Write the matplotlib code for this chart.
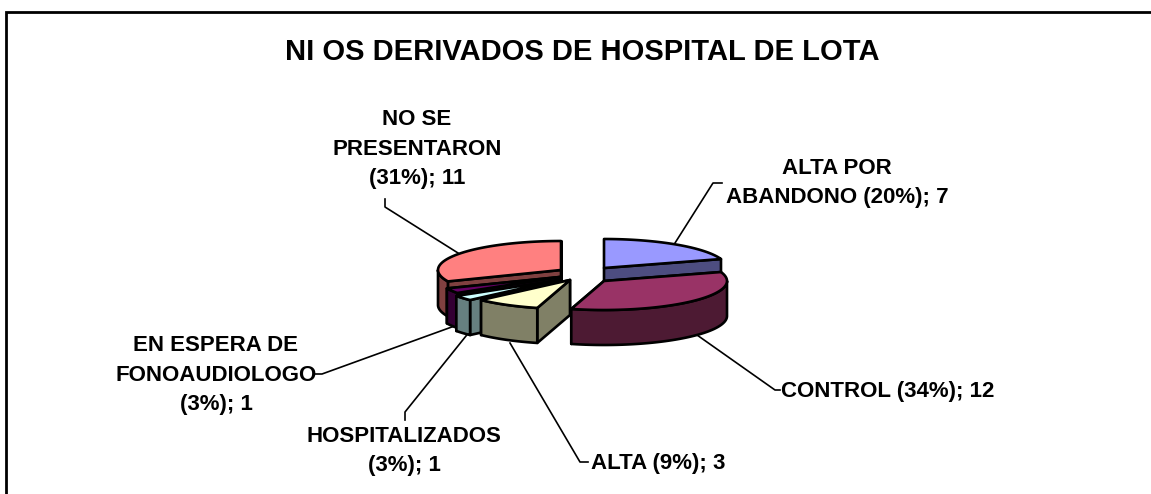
import numpy as np
import matplotlib
matplotlib.use('Agg')
import matplotlib.pyplot as plt

# Data
labels = ['ALTA POR\nABANDONO (20%); 7', 'CONTROL (34%); 12', 'ALTA (9%); 3',
          'HOSPITALIZADOS\n(3%); 1', 'EN ESPERA DE\nFONOAUDIOLOGO\n(3%); 1',
          'NO SE\nPRESENTARON\n(31%); 11']
values = [7, 12, 3, 1, 1, 11]
title = 'NI OS DERIVADOS DE HOSPITAL DE LOTA'

# Style
top_colors = ['#9999FF', '#993366', '#FFFFCC', '#CCFFFF', '#660066', '#FF8080']
side_colors = ['#4D4D80', '#4D1A33', '#808066', '#668080', '#330033', '#804040']
centers = [(604, 268), (604, 281), (570, 280), (559, 280), (560, 277), (561, 270)]
draw_order = [0, 5, 4, 3, 2, 1]
rx, ry, depth = 123, 29, 35
lw = 1.9

# label position (x, y, ha) and leader line
label_pos = [(837, 183, 'center'), (781, 391, 'left'), (591, 463, 'left'),
             (404, 451, 'center'), (216, 375, 'center'), (417, 149, 'center')]
leaders = [[(675, 243), (713, 183), (722, 183)],
           [(697, 335), (775, 390), (780, 390)],
           [(510, 343), (580, 462), (588, 462)],
           [(470, 331), (405, 412), (405, 420)],
           [(460, 324), (322, 374), (315, 374)],
           [(458, 253), (385, 207), (385, 199)]]

plt.rcParams['font.family'] = ['Liberation Sans', 'DejaVu Sans']

fig = plt.figure(figsize=(11.51, 4.94), dpi=100)
ax = fig.add_axes([0, 0, 1, 1])
ax.set_xlim(0, 1151)
ax.set_ylim(494, 0)
ax.axis('off')


def rim(c, a0, a1):
    # angles in degrees, clockwise from 12 o'clock, squashed ellipse
    t = np.radians(np.linspace(a0, a1, 80))
    return c[0] + rx * np.sin(t), c[1] - ry * np.cos(t)


angles = np.concatenate([[0], np.cumsum(values)]) / sum(values) * 360

# frame, only the left and top edges show in the crop
ax.plot([6.5, 6.5, 1151], [494, 12, 12], color='black', lw=2, solid_joinstyle='miter')

for pts in leaders:
    ax.plot(*zip(*pts), color='black', lw=1.2, zorder=1)

z = 2
for i in draw_order:
    c, a0, a1 = centers[i], angles[i], angles[i + 1]
    # radial side faces, the one further back first
    for a in sorted((a0, a1), key=lambda v: rim(c, v, v)[1][0]):
        x, y = rim(c, a, a)
        ax.fill([c[0], x[0], x[0], c[0]], [c[1], y[0], y[0] + depth, c[1] + depth],
                facecolor=side_colors[i], edgecolor='black', lw=lw, zorder=z, joinstyle='round')
        z += 1
    # outer wall, front part only
    f0, f1 = max(a0, 90), min(a1, 270)
    if f1 > f0:
        x, y = rim(c, f0, f1)
        ax.fill(np.r_[x, x[::-1]], np.r_[y, y[::-1] + depth],
                facecolor=side_colors[i], edgecolor='black', lw=lw, zorder=z, joinstyle='round')
        z += 1
    # top
    x, y = rim(c, a0, a1)
    ax.fill(np.r_[c[0], x], np.r_[c[1], y], facecolor=top_colors[i], edgecolor='black',
            lw=lw, zorder=z, joinstyle='round')
    z += 1

ax.text(582, 52, title, ha='center', va='center', fontsize=21, fontweight='bold')
for lab, (x, y, ha) in zip(labels, label_pos):
    ax.text(x, y, lab, ha=ha, va='center', fontsize=16, fontweight='bold',
            multialignment='center', linespacing=1.52)

fig.savefig('out.png', dpi=100)
